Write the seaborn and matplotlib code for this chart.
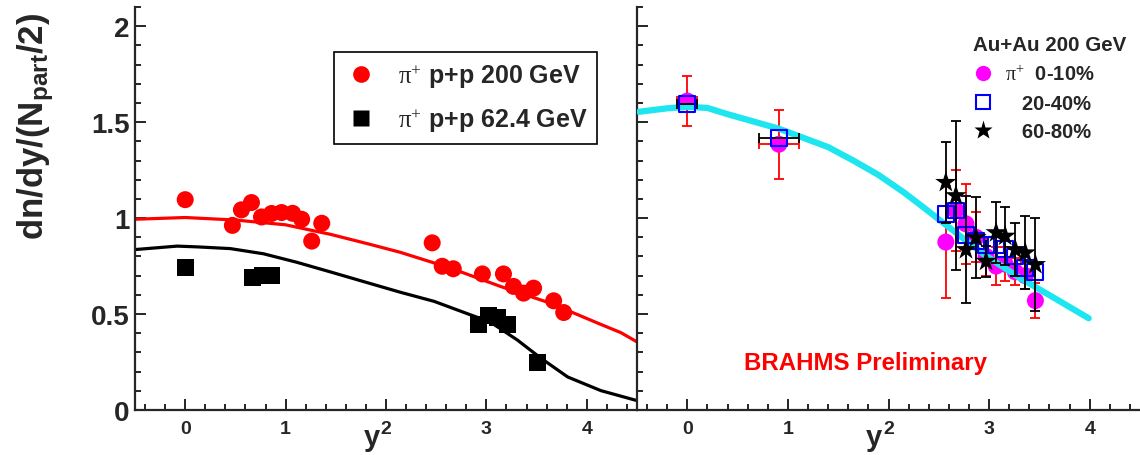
import matplotlib
matplotlib.use("Agg")
import matplotlib.pyplot as plt
import seaborn as sns
from matplotlib.ticker import MultipleLocator
from matplotlib.lines import Line2D

# ---------------- data ----------------
xticks = [0, 1, 2, 3, 4]
xtick_labels = ["0", "1", "2", "3", "4"]
yticks = [0, 0.5, 1, 1.5, 2]
ytick_labels = ["0", "0.5", "1", "1.5", "2"]

# left panel: p+p 200 GeV (red circles)
pp200_x = [0.0, 0.47, 0.56, 0.66, 0.76, 0.86, 0.96, 1.07, 1.16, 1.26, 1.36,
           2.46, 2.56, 2.67, 2.96, 3.17, 3.27, 3.37, 3.47, 3.67, 3.77]
pp200_y = [1.096, 0.962, 1.043, 1.081, 1.006, 1.024, 1.029, 1.025, 0.994, 0.880, 0.973,
           0.871, 0.749, 0.736, 0.709, 0.709, 0.644, 0.609, 0.635, 0.569, 0.508]

# left panel: p+p 62.4 GeV (black squares)
pp62_x = [0.0, 0.67, 0.77, 0.86, 2.92, 3.02, 3.11, 3.21, 3.51]
pp62_y = [0.744, 0.691, 0.700, 0.700, 0.446, 0.490, 0.481, 0.443, 0.247]

# left panel curves
fit200_x = [-0.5, 0.0, 0.5, 1.0, 1.45, 1.85, 2.14, 2.64, 3.14, 3.64, 4.14, 4.34, 4.5]
fit200_y = [0.994, 1.003, 0.990, 0.965, 0.915, 0.862, 0.822, 0.740, 0.644, 0.556, 0.446, 0.403, 0.355]

fit62_x = [-0.5, -0.08, 0.12, 0.45, 0.78, 1.11, 1.45, 1.85, 2.14, 2.48, 2.81, 3.04,
           3.31, 3.54, 3.81, 4.14, 4.5]
fit62_y = [0.836, 0.854, 0.850, 0.841, 0.814, 0.770, 0.719, 0.658, 0.614, 0.566, 0.502, 0.458,
           0.364, 0.271, 0.172, 0.101, 0.049]

# right panel: Au+Au 200 GeV
c010_x = [0.0, 0.91, 2.57, 2.67, 2.77, 2.87, 2.97, 3.07, 3.16, 3.26, 3.36, 3.46]
c010_y = [1.61, 1.385, 0.875, 1.04, 0.97, 0.90, 0.80, 0.75, 0.76, 0.72, 0.70, 0.57]
c010_yerr = [0.13, 0.18, 0.29, 0.21, 0.21, 0.13, 0.10, 0.10, 0.09, 0.07, 0.07, 0.09]
c010_xerr = [0.1, 0.2, 0, 0, 0, 0, 0, 0, 0, 0, 0, 0]

c2040_x = [0.0, 0.91, 2.57, 2.67, 2.77, 2.87, 2.97, 3.07, 3.16, 3.26, 3.36, 3.46]
c2040_y = [1.595, 1.417, 1.02, 1.04, 0.91, 0.88, 0.86, 0.86, 0.84, 0.80, 0.74, 0.72]
c2040_xerr = [0.1, 0.2, 0, 0, 0, 0, 0, 0, 0, 0, 0, 0]

c6080_x = [2.57, 2.67, 2.77, 2.87, 2.97, 3.07, 3.16, 3.26, 3.36, 3.46]
c6080_y = [1.186, 1.117, 0.836, 0.898, 0.775, 0.924, 0.906, 0.836, 0.819, 0.758]
c6080_yerr = [0.21, 0.39, 0.28, 0.21, 0.08, 0.16, 0.15, 0.14, 0.19, 0.24]

aa_fit_x = [-0.48, -0.2, 0.0, 0.2, 0.41, 0.91, 1.40, 1.65, 1.90, 2.15, 2.35, 2.65, 2.95, 3.30, 3.65, 3.99]
aa_fit_y = [1.554, 1.572, 1.580, 1.574, 1.540, 1.466, 1.370, 1.300, 1.225, 1.135, 1.055, 0.932, 0.810, 0.690, 0.583, 0.478]

legend_left = [r"$\mathrm{\pi}^{+}$ p+p 200 GeV", r"$\mathrm{\pi}^{+}$ p+p 62.4 GeV"]
legend_right_title = "Au+Au 200 GeV"
legend_right = [r"$\mathrm{\pi}^{+}$  0-10%", "   20-40%", "   60-80%"]

# ---------------- style ----------------
sns.set_theme(style="ticks")
plt.rcParams["font.family"] = ["Liberation Sans", "DejaVu Sans"]
plt.rcParams["mathtext.fontset"] = "custom"
plt.rcParams["mathtext.rm"] = "Liberation Serif"
plt.rcParams["mathtext.it"] = "Liberation Serif:italic"
plt.rcParams["mathtext.bf"] = "Liberation Sans:bold"
plt.rcParams["mathtext.sf"] = "Liberation Sans"

RED = "#FF0000"
MAG = "#FF00FF"
BLUE = "#0000FF"
CYAN = "#1EE6F0"

fig = plt.figure(figsize=(11.4, 4.56), dpi=100)
ax1 = fig.add_axes([135 / 1140, 45 / 456, 502 / 1140, 403 / 456])
ax2 = fig.add_axes([637 / 1140, 45 / 456, 503 / 1140, 403 / 456])

for ax in (ax1, ax2):
    ax.set_xlim(-0.5, 4.5)
    ax.set_ylim(0, 2.1)
    ax.set_xticks(xticks, xtick_labels, fontsize=14, fontweight="bold")
    ax.set_yticks(yticks, ytick_labels, fontsize=20, fontweight="bold")
    ax.xaxis.set_minor_locator(MultipleLocator(0.2))
    ax.yaxis.set_minor_locator(MultipleLocator(0.1))
    ax.tick_params(which="both", direction="in", top=False, right=False, width=1.2, color="black")
    ax.tick_params(which="major", length=8)
    ax.tick_params(which="minor", length=4)
    ax.tick_params(axis="x", pad=7.5)
    ax.tick_params(axis="y", pad=4)
    ax.spines["top"].set_visible(False)
    ax.spines["right"].set_visible(False)
    ax.spines["left"].set_linewidth(1.6)
    ax.spines["bottom"].set_linewidth(1.6)
    ax.set_xlabel("y", fontsize=21, fontweight="bold")
    ax.xaxis.label.set_va("baseline")
    ax.set_facecolor("white")

ax2.tick_params(labelleft=False)
ax1.xaxis.set_label_coords(0.472, -0.086)
ax2.xaxis.set_label_coords(0.471, -0.086)

ax1.set_ylabel(r"dn/dy/(N$_{\mathbf{part}}$/2)", fontsize=25, fontweight="bold")
ax1.yaxis.set_label_coords(-0.158, 0.705)

# ---------------- left panel ----------------
sns.lineplot(x=fit200_x, y=fit200_y, ax=ax1, color=RED, lw=2.3, sort=False, estimator=None, zorder=2)
sns.lineplot(x=fit62_x, y=fit62_y, ax=ax1, color="black", lw=2.3, sort=False, estimator=None, zorder=2)
sns.scatterplot(x=pp200_x, y=pp200_y, ax=ax1, marker="o", s=150, color=RED, edgecolor="none", zorder=3)
sns.scatterplot(x=pp62_x, y=pp62_y, ax=ax1, marker="s", s=150, color="black", edgecolor="none", zorder=3)

h_left = [Line2D([], [], ls="none", marker="o", ms=12, color=RED, mec="none"),
          Line2D([], [], ls="none", marker="s", ms=11, color="black", mec="none")]
leg1 = ax1.legend(h_left, legend_left, loc="upper left", bbox_to_anchor=(0.396, 0.889),
                  frameon=True, fancybox=False, edgecolor="black", framealpha=1,
                  prop=dict(family="Liberation Sans", weight="bold", size=18),
                  borderpad=0.4, labelspacing=0.64, handlelength=1.4, handletextpad=0.75,
                  borderaxespad=0)
leg1.get_frame().set_linewidth(1.2)

# ---------------- right panel ----------------
ax2.errorbar(c010_x, c010_y, yerr=c010_yerr, xerr=c010_xerr, fmt="none", ecolor=RED,
             elinewidth=1.3, capsize=3.5, capthick=1.3, zorder=2)
sns.scatterplot(x=c010_x, y=c010_y, ax=ax2, marker="o", s=150, color=MAG, edgecolor="none", zorder=3)
sns.lineplot(x=aa_fit_x, y=aa_fit_y, ax=ax2, color=CYAN, lw=4.5, sort=False, estimator=None, zorder=4)
ax2.errorbar(c2040_x, c2040_y, xerr=c2040_xerr, fmt="none", ecolor="black",
             elinewidth=1.3, capsize=3.5, capthick=1.3, zorder=5)
sns.scatterplot(x=c2040_x, y=c2040_y, ax=ax2, marker="s", s=130, facecolor="none",
                edgecolor=BLUE, linewidth=1.5, zorder=5)
ax2.errorbar(c6080_x, c6080_y, yerr=c6080_yerr, fmt="none", ecolor="black",
             elinewidth=1.3, capsize=3.5, capthick=1.3, zorder=6)
sns.scatterplot(x=c6080_x, y=c6080_y, ax=ax2, marker="*", s=260, color="black", edgecolor="none", zorder=7)

h_right = [Line2D([], [], ls="none", marker="o", ms=11, color=MAG, mec="none"),
           Line2D([], [], ls="none", marker="s", ms=10, mfc="none", mec=BLUE, mew=1.5),
           Line2D([], [], ls="none", marker="*", ms=14, color="black", mec="none")]
leg2 = ax2.legend(h_right, legend_right, title=legend_right_title, loc="upper right",
                  bbox_to_anchor=(0.973, 0.93), frameon=False, alignment="left",
                  prop=dict(family="Liberation Sans", weight="bold", size=14.5),
                  title_fontproperties=dict(family="Liberation Sans", weight="bold", size=14.8),
                  labelspacing=0.48, handlelength=1.0, handletextpad=0.6, borderaxespad=0, borderpad=0)

ax2.text(0.455, 0.102, "BRAHMS Preliminary", transform=ax2.transAxes, ha="center", va="baseline",
         color=RED, fontsize=17.3, fontweight="bold")

fig.savefig("out.png", dpi=100, facecolor="white")
